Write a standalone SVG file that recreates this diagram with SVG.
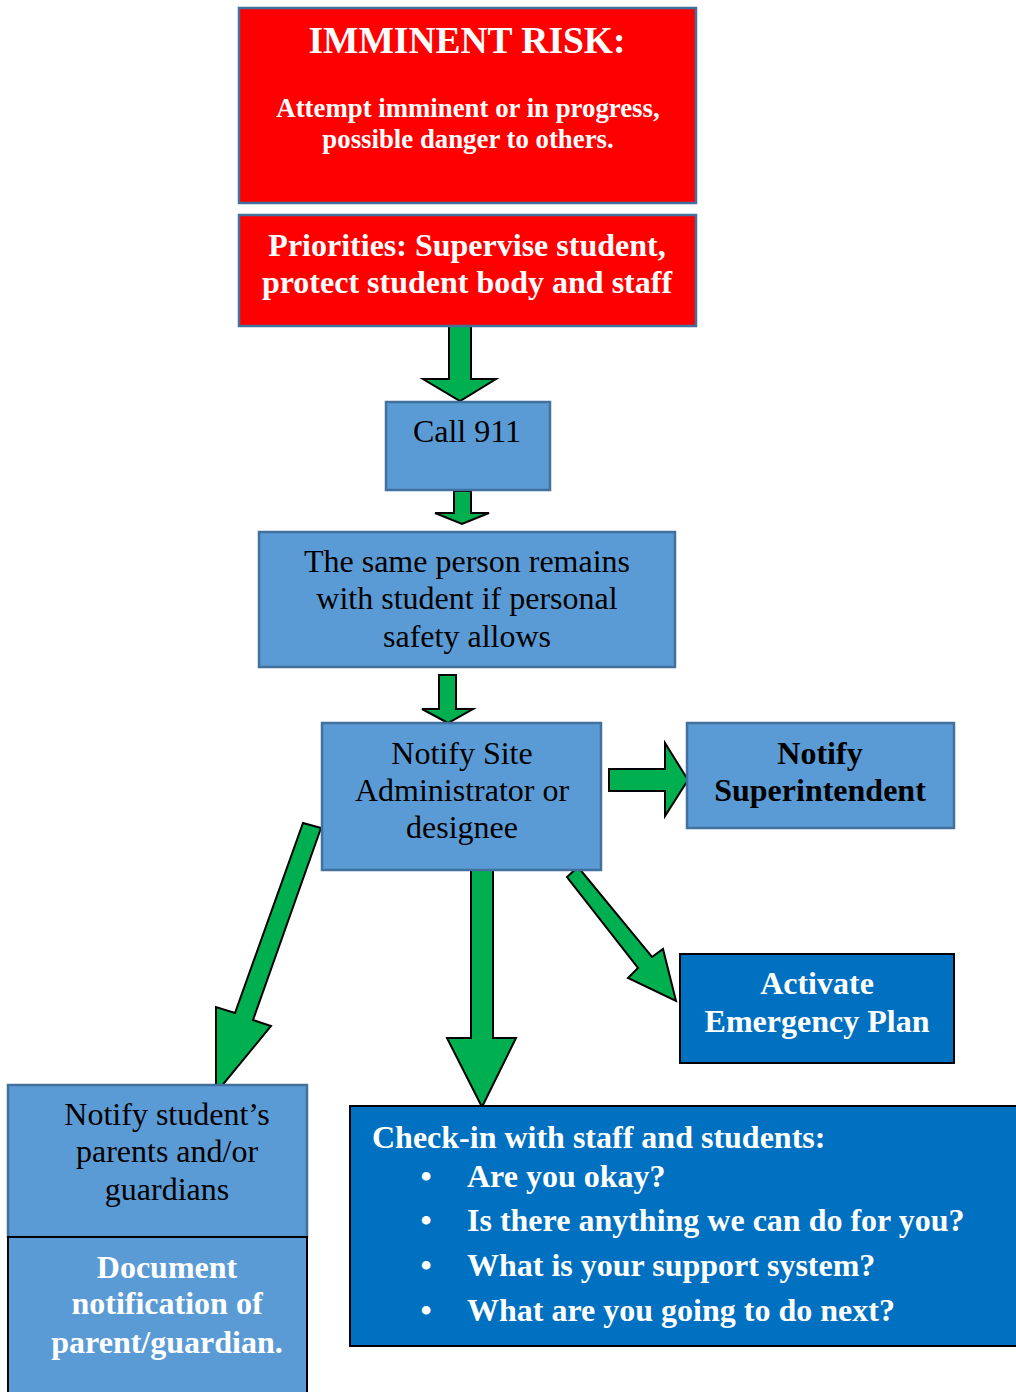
<svg xmlns="http://www.w3.org/2000/svg" width="1016" height="1392" viewBox="0 0 1016 1392">
<style>
.red{fill:#FF0000;stroke:#41719C;stroke-width:2.5}
.lb{fill:#5B9BD5;stroke:#41719C;stroke-width:2.5}
.db{fill:#0070C0;stroke:#000;stroke-width:2}
.arr{fill:#00B050;stroke:#000;stroke-width:2;stroke-linejoin:miter}
text{font-family:"Liberation Serif","Times New Roman",serif;text-anchor:middle;font-size:32px}
.w{fill:#fff;font-weight:bold}
.k{fill:#000}
.kb{fill:#000;font-weight:bold}
.l{text-anchor:start}
</style>
<rect width="1016" height="1392" fill="#fff"/>
<g id="connectors">
<polygon class="arr" points="449,324 471,324 471,379 496,379 460,401 423,379 449,379"/>
<polygon class="arr" points="454,491 471,491 471,513 489,513 462,524 435,513 454,513"/>
<polygon class="arr" points="439,675 456,675 456,709 473,709 448,723 422,709 439,709"/>
<polygon class="arr" points="609,769 665,769 665,743 688,780 665,816 665,791 609,791"/>
<polygon class="arr" points="471,870 493,870 493,1038 516,1038 482,1107 447,1038 471,1038"/>
<polygon class="arr" points="567,877 578,867 652,957 663,949 676,1001 628,978 638,968"/>
<polygon class="arr" points="303,823 321,828 253,1020 271,1026 216,1093 216,1007 235,1013"/>
</g>
<g id="imminent">
<rect class="red" x="239" y="8" width="457" height="195"/>
<text class="w" x="467" y="53" style="font-size:37.5px">IMMINENT RISK:</text>
<text class="w" x="468" y="117" style="font-size:26.8px">Attempt imminent or in progress,</text>
<text class="w" x="468" y="148" style="font-size:26.8px">possible danger to others.</text>
</g>
<g id="priorities">
<rect class="red" x="239" y="215" width="457" height="111"/>
<text class="w" x="467" y="256">Priorities: Supervise student,</text>
<text class="w" x="467" y="293">protect student body and staff</text>
</g>
<g id="call911">
<rect class="lb" x="386" y="402" width="164" height="88"/>
<text class="k" x="467" y="442">Call 911</text>
</g>
<g id="sameperson">
<rect class="lb" x="259" y="532" width="416" height="135"/>
<text class="k" x="467" y="572">The same person remains</text>
<text class="k" x="467" y="609">with student if personal</text>
<text class="k" x="467" y="647">safety allows</text>
</g>
<g id="notifysite">
<rect class="lb" x="322" y="723" width="279" height="147"/>
<text class="k" x="462" y="764">Notify Site</text>
<text class="k" x="462" y="801">Administrator or</text>
<text class="k" x="462" y="838">designee</text>
</g>
<g id="superintendent">
<rect class="lb" x="687" y="723" width="267" height="105"/>
<text class="kb" x="820" y="764">Notify</text>
<text class="kb" x="820" y="801">Superintendent</text>
</g>
<g id="emergency">
<rect class="db" x="680" y="954" width="274" height="109"/>
<text class="w" x="817" y="994">Activate</text>
<text class="w" x="817" y="1032">Emergency Plan</text>
</g>
<g id="notifyparents">
<rect class="lb" x="8" y="1085" width="299" height="152"/>
<text class="k" x="167" y="1125">Notify student’s</text>
<text class="k" x="167" y="1162">parents and/or</text>
<text class="k" x="167" y="1200">guardians</text>
</g>
<g id="document">
<rect x="8" y="1237" width="299" height="160" fill="#5B9BD5" stroke="#000" stroke-width="2"/>
<text class="w" x="167" y="1278">Document</text>
<text class="w" x="167" y="1314">notification of</text>
<text class="w" x="167" y="1353">parent/guardian.</text>
</g>
<g id="checkin">
<rect class="db" x="350" y="1106" width="672" height="240"/>
<text class="w l" x="372" y="1148">Check-in with staff and students:</text>
<text class="w" x="426" y="1187">•</text>
<text class="w l" x="467" y="1187">Are you okay?</text>
<text class="w" x="426" y="1231">•</text>
<text class="w l" x="467" y="1231">Is there anything we can do for you?</text>
<text class="w" x="426" y="1276">•</text>
<text class="w l" x="467" y="1276">What is your support system?</text>
<text class="w" x="426" y="1321">•</text>
<text class="w l" x="467" y="1321">What are you going to do next?</text>
</g>
</svg>
